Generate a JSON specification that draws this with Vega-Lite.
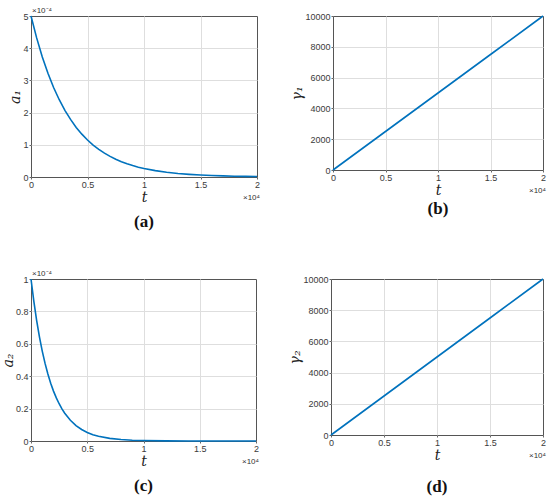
{
  "$schema": "https://vega.github.io/schema/vega-lite/v6.json",
  "description": "Decay of a1, a2 and linear growth of gamma1, gamma2 over t, as four MATLAB-style panels.",
  "padding": {"left": 0, "top": 6, "right": 2, "bottom": 5},
  "background": "white",
  "datasets": {
    "a1": [
      {"t": 0, "a": 0.0005},
      {"t": 500, "a": 0.000432},
      {"t": 1000, "a": 0.000373},
      {"t": 1500, "a": 0.000322},
      {"t": 2000, "a": 0.000278},
      {"t": 2500, "a": 0.00024},
      {"t": 3000, "a": 0.000207},
      {"t": 3500, "a": 0.000179},
      {"t": 4000, "a": 0.000154},
      {"t": 4500, "a": 0.000133},
      {"t": 5000, "a": 0.000115},
      {"t": 5500, "a": 0.000099},
      {"t": 6000, "a": 0.000086},
      {"t": 6500, "a": 0.000074},
      {"t": 7000, "a": 0.000064},
      {"t": 7500, "a": 0.000055},
      {"t": 8000, "a": 0.0000475},
      {"t": 8500, "a": 0.000041},
      {"t": 9000, "a": 0.0000354},
      {"t": 9500, "a": 0.0000305},
      {"t": 10000, "a": 0.0000264},
      {"t": 11000, "a": 0.0000197},
      {"t": 12000, "a": 0.0000147},
      {"t": 13000, "a": 0.0000109},
      {"t": 14000, "a": 0.0000082},
      {"t": 15000, "a": 0.0000061},
      {"t": 16000, "a": 0.0000045},
      {"t": 17000, "a": 0.0000034},
      {"t": 18000, "a": 0.0000025},
      {"t": 19000, "a": 0.0000019},
      {"t": 20000, "a": 0.0000014}
    ],
    "a2": [
      {"t": 0, "a": 0.0001},
      {"t": 250, "a": 0.0000863},
      {"t": 500, "a": 0.0000745},
      {"t": 750, "a": 0.0000643},
      {"t": 1000, "a": 0.0000555},
      {"t": 1250, "a": 0.0000479},
      {"t": 1500, "a": 0.0000414},
      {"t": 1750, "a": 0.0000357},
      {"t": 2000, "a": 0.0000308},
      {"t": 2250, "a": 0.0000266},
      {"t": 2500, "a": 0.000023},
      {"t": 2750, "a": 0.0000198},
      {"t": 3000, "a": 0.0000171},
      {"t": 3500, "a": 0.0000128},
      {"t": 4000, "a": 0.0000095},
      {"t": 4500, "a": 0.0000071},
      {"t": 5000, "a": 0.0000053},
      {"t": 5500, "a": 0.0000039},
      {"t": 6000, "a": 0.0000029},
      {"t": 7000, "a": 0.0000016},
      {"t": 8000, "a": 0.0000009},
      {"t": 9000, "a": 0.0000005},
      {"t": 10000, "a": 0.00000028},
      {"t": 12000, "a": 0.00000009},
      {"t": 14000, "a": 0.00000003},
      {"t": 16000, "a": 0.00000001},
      {"t": 18000, "a": 0.000000003},
      {"t": 20000, "a": 0.000000001}
    ],
    "g1": [
      {"t": 0, "g": 0},
      {"t": 5000, "g": 2500},
      {"t": 10000, "g": 5000},
      {"t": 15000, "g": 7500},
      {"t": 20000, "g": 10000}
    ],
    "g2": [
      {"t": 0, "g": 0},
      {"t": 5000, "g": 2500},
      {"t": 10000, "g": 5000},
      {"t": 15000, "g": 7500},
      {"t": 20000, "g": 10000}
    ]
  },
  "vconcat": [
    {
      "spacing": 29,
      "hconcat": [
        {
          "width": 226,
          "height": 161,
          "title": {"text": "(a)", "offset": 10},
          "encoding": {
            "x": {"type": "quantitative", "title": "t",
              "scale": {"domain": [0, 20000], "nice": false},
              "axis": {"values": [0, 5000, 10000, 15000, 20000], "labelExpr": "format(datum.value / 10000, '~g')",
                "gridColor": {"condition": {"test": "datum.value <= 0 || datum.value >= 20000", "value": "transparent"}, "value": "#dedede"}}},
            "y": {"type": "quantitative", "title": "a₁",
              "scale": {"domain": [0, 0.0005], "nice": false},
              "axis": {"values": [0, 0.0001, 0.0002, 0.0003, 0.0004, 0.0005], "labelExpr": "format(datum.value * 10000, '~g')",
                "gridColor": {"condition": {"test": "datum.value <= 0 || datum.value >= 0.0005", "value": "transparent"}, "value": "#dedede"}}}
          },
          "layer": [
            {
              "data": {"name": "a1"},
              "mark": {"type": "line", "color": "#0072BD", "strokeWidth": 1.6},
              "encoding": {"x": {"field": "t"}, "y": {"field": "a"}}
            },
            {
              "data": {"values": [{"t": 0, "a": 0.0005}]},
              "mark": {"type": "text", "text": "×10⁻⁴", "align": "left", "baseline": "bottom", "dx": 1, "dy": -1, "fontSize": 8, "font": "Liberation Sans", "color": "#333"},
              "encoding": {"x": {"field": "t"}, "y": {"field": "a"}}
            },
            {
              "data": {"values": [{"t": 20000, "a": 0}]},
              "mark": {"type": "text", "text": "×10⁴", "align": "right", "baseline": "top", "dx": 3, "dy": 17, "fontSize": 8, "font": "Liberation Sans", "color": "#333"},
              "encoding": {"x": {"field": "t"}, "y": {"field": "a"}}
            }
          ]
        },
        {
          "width": 210,
          "height": 154,
          "title": {"text": "(b)", "offset": 4},
          "encoding": {
            "x": {"type": "quantitative", "title": "t",
              "scale": {"domain": [0, 20000], "nice": false},
              "axis": {"values": [0, 5000, 10000, 15000, 20000], "labelExpr": "format(datum.value / 10000, '~g')",
                "gridColor": {"condition": {"test": "datum.value <= 0 || datum.value >= 20000", "value": "transparent"}, "value": "#dedede"}}},
            "y": {"type": "quantitative", "title": "γ₁",
              "scale": {"domain": [0, 10000], "nice": false},
              "axis": {"values": [0, 2000, 4000, 6000, 8000, 10000], "format": "d",
                "gridColor": {"condition": {"test": "datum.value <= 0 || datum.value >= 10000", "value": "transparent"}, "value": "#dedede"}}}
          },
          "layer": [
            {
              "data": {"name": "g1"},
              "mark": {"type": "line", "color": "#0072BD", "strokeWidth": 1.6},
              "encoding": {"x": {"field": "t"}, "y": {"field": "g"}}
            },
            {
              "data": {"values": [{"t": 20000, "g": 0}]},
              "mark": {"type": "text", "text": "×10⁴", "align": "right", "baseline": "top", "dx": 3, "dy": 17, "fontSize": 8, "font": "Liberation Sans", "color": "#333"},
              "encoding": {"x": {"field": "t"}, "y": {"field": "g"}}
            }
          ]
        }
      ]
    },
    {
      "spacing": 28,
      "hconcat": [
        {
          "width": 225,
          "height": 162,
          "title": {"text": "(c)", "offset": 10},
          "encoding": {
            "x": {"type": "quantitative", "title": "t",
              "scale": {"domain": [0, 20000], "nice": false},
              "axis": {"values": [0, 5000, 10000, 15000, 20000], "labelExpr": "format(datum.value / 10000, '~g')",
                "gridColor": {"condition": {"test": "datum.value <= 0 || datum.value >= 20000", "value": "transparent"}, "value": "#dedede"}}},
            "y": {"type": "quantitative", "title": "a₂",
              "scale": {"domain": [0, 0.0001], "nice": false},
              "axis": {"values": [0, 0.00002, 0.00004, 0.00006, 0.00008, 0.0001], "labelExpr": "format(datum.value * 10000, '~g')",
                "gridColor": {"condition": {"test": "datum.value <= 0 || datum.value >= 0.0001", "value": "transparent"}, "value": "#dedede"}}}
          },
          "layer": [
            {
              "data": {"name": "a2"},
              "mark": {"type": "line", "color": "#0072BD", "strokeWidth": 1.6},
              "encoding": {"x": {"field": "t"}, "y": {"field": "a"}}
            },
            {
              "data": {"values": [{"t": 0, "a": 0.0001}]},
              "mark": {"type": "text", "text": "×10⁻⁴", "align": "left", "baseline": "bottom", "dx": 1, "dy": -1, "fontSize": 8, "font": "Liberation Sans", "color": "#333"},
              "encoding": {"x": {"field": "t"}, "y": {"field": "a"}}
            },
            {
              "data": {"values": [{"t": 20000, "a": 0}]},
              "mark": {"type": "text", "text": "×10⁴", "align": "right", "baseline": "top", "dx": 3, "dy": 17, "fontSize": 8, "font": "Liberation Sans", "color": "#333"},
              "encoding": {"x": {"field": "t"}, "y": {"field": "a"}}
            }
          ]
        },
        {
          "width": 212,
          "height": 156,
          "title": {"text": "(d)", "offset": 17},
          "encoding": {
            "x": {"type": "quantitative", "title": "t",
              "scale": {"domain": [0, 20000], "nice": false},
              "axis": {"values": [0, 5000, 10000, 15000, 20000], "labelExpr": "format(datum.value / 10000, '~g')",
                "gridColor": {"condition": {"test": "datum.value <= 0 || datum.value >= 20000", "value": "transparent"}, "value": "#dedede"}}},
            "y": {"type": "quantitative", "title": "γ₂",
              "scale": {"domain": [0, 10000], "nice": false},
              "axis": {"values": [0, 2000, 4000, 6000, 8000, 10000], "format": "d",
                "gridColor": {"condition": {"test": "datum.value <= 0 || datum.value >= 10000", "value": "transparent"}, "value": "#dedede"}}}
          },
          "layer": [
            {
              "data": {"name": "g2"},
              "mark": {"type": "line", "color": "#0072BD", "strokeWidth": 1.6},
              "encoding": {"x": {"field": "t"}, "y": {"field": "g"}}
            },
            {
              "data": {"values": [{"t": 20000, "g": 0}]},
              "mark": {"type": "text", "text": "×10⁴", "align": "right", "baseline": "top", "dx": 3, "dy": 17, "fontSize": 8, "font": "Liberation Sans", "color": "#333"},
              "encoding": {"x": {"field": "t"}, "y": {"field": "g"}}
            }
          ]
        }
      ]
    }
  ],
  "spacing": 38,
  "config": {
    "view": {"stroke": "#555555", "strokeWidth": 1},
    "axis": {
      "grid": true,
      "domain": false,
      "ticks": true,
      "tickSize": 2,
      "tickColor": "#666666",
      "labelPadding": 1,
      "labelFlush": false,
      "labelOverlap": false,
      "labelFont": "Liberation Sans",
      "labelFontSize": 9,
      "labelColor": "#3a3a3a",
      "titleFont": "DejaVu Serif",
      "titleFontStyle": "italic",
      "titleFontWeight": "normal",
      "titleFontSize": 14,
      "titleColor": "#222222"
    },
    "axisY": {"titlePadding": 0},
    "axisX": {"titlePadding": 1},
    "title": {
      "orient": "bottom",
      "frame": "group",
      "anchor": "middle",
      "font": "Liberation Serif",
      "fontSize": 17,
      "fontWeight": "bold",
      "color": "#111111",
      "offset": 12
    }
  }
}
